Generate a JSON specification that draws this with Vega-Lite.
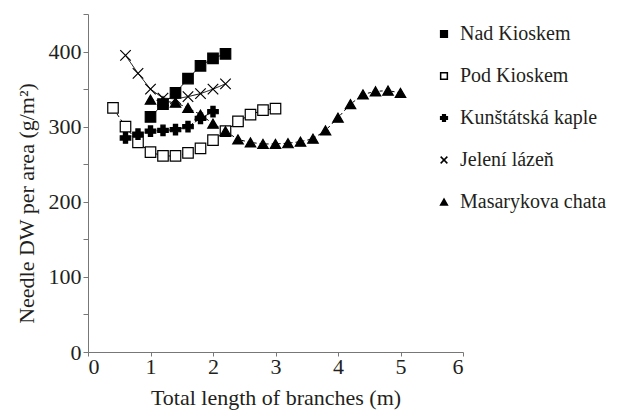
{
  "$schema": "https://vega.github.io/schema/vega-lite/v6.json",
  "width": 375,
  "height": 338,
  "autosize": {"type": "none"},
  "padding": {"left": 88, "top": 14, "right": 159, "bottom": 68},
  "background": "white",
  "config": {
    "view": {"stroke": null},
    "font": "Liberation Serif",
    "axis": {
      "grid": false,
      "domainColor": "#777777",
      "tickColor": "#777777",
      "labelFont": "Liberation Serif",
      "titleFont": "Liberation Serif",
      "labelFontSize": 22,
      "titleFontSize": 22,
      "titleFontWeight": "normal",
      "labelColor": "#231f20",
      "titleColor": "#231f20"
    },
    "legend": {"labelFont": "Liberation Serif", "labelLimit": 400}
  },
  "data": {
    "values": [
      {"site": "Nad Kioskem", "x": 1.0, "y": 313},
      {"site": "Nad Kioskem", "x": 1.2, "y": 330},
      {"site": "Nad Kioskem", "x": 1.4, "y": 345},
      {"site": "Nad Kioskem", "x": 1.6, "y": 364},
      {"site": "Nad Kioskem", "x": 1.8, "y": 381},
      {"site": "Nad Kioskem", "x": 2.0, "y": 391},
      {"site": "Nad Kioskem", "x": 2.2, "y": 397},
      {"site": "Pod Kioskem", "x": 0.4, "y": 325},
      {"site": "Pod Kioskem", "x": 0.6, "y": 300},
      {"site": "Pod Kioskem", "x": 0.8, "y": 279},
      {"site": "Pod Kioskem", "x": 1.0, "y": 266},
      {"site": "Pod Kioskem", "x": 1.2, "y": 261},
      {"site": "Pod Kioskem", "x": 1.4, "y": 261},
      {"site": "Pod Kioskem", "x": 1.6, "y": 265},
      {"site": "Pod Kioskem", "x": 1.8, "y": 271},
      {"site": "Pod Kioskem", "x": 2.0, "y": 282},
      {"site": "Pod Kioskem", "x": 2.2, "y": 294},
      {"site": "Pod Kioskem", "x": 2.4, "y": 307},
      {"site": "Pod Kioskem", "x": 2.6, "y": 316},
      {"site": "Pod Kioskem", "x": 2.8, "y": 322},
      {"site": "Pod Kioskem", "x": 3.0, "y": 324},
      {"site": "Kunštátská kaple", "x": 0.6, "y": 285},
      {"site": "Kunštátská kaple", "x": 0.8, "y": 290},
      {"site": "Kunštátská kaple", "x": 1.0, "y": 294},
      {"site": "Kunštátská kaple", "x": 1.2, "y": 295},
      {"site": "Kunštátská kaple", "x": 1.4, "y": 296},
      {"site": "Kunštátská kaple", "x": 1.6, "y": 300},
      {"site": "Kunštátská kaple", "x": 1.8, "y": 311},
      {"site": "Kunštátská kaple", "x": 2.0, "y": 320},
      {"site": "Jelení lázeň", "x": 0.6, "y": 395},
      {"site": "Jelení lázeň", "x": 0.8, "y": 371},
      {"site": "Jelení lázeň", "x": 1.0, "y": 350},
      {"site": "Jelení lázeň", "x": 1.2, "y": 338},
      {"site": "Jelení lázeň", "x": 1.4, "y": 337},
      {"site": "Jelení lázeň", "x": 1.6, "y": 340},
      {"site": "Jelení lázeň", "x": 1.8, "y": 344},
      {"site": "Jelení lázeň", "x": 2.0, "y": 350},
      {"site": "Jelení lázeň", "x": 2.2, "y": 357},
      {"site": "Masarykova chata", "x": 1.0, "y": 336},
      {"site": "Masarykova chata", "x": 1.2, "y": 334},
      {"site": "Masarykova chata", "x": 1.4, "y": 332},
      {"site": "Masarykova chata", "x": 1.6, "y": 325},
      {"site": "Masarykova chata", "x": 1.8, "y": 316},
      {"site": "Masarykova chata", "x": 2.0, "y": 304},
      {"site": "Masarykova chata", "x": 2.2, "y": 294},
      {"site": "Masarykova chata", "x": 2.4, "y": 283},
      {"site": "Masarykova chata", "x": 2.6, "y": 279},
      {"site": "Masarykova chata", "x": 2.8, "y": 277},
      {"site": "Masarykova chata", "x": 3.0, "y": 277},
      {"site": "Masarykova chata", "x": 3.2, "y": 278},
      {"site": "Masarykova chata", "x": 3.4, "y": 280},
      {"site": "Masarykova chata", "x": 3.6, "y": 284},
      {"site": "Masarykova chata", "x": 3.8, "y": 295},
      {"site": "Masarykova chata", "x": 4.0, "y": 312},
      {"site": "Masarykova chata", "x": 4.2, "y": 330},
      {"site": "Masarykova chata", "x": 4.4, "y": 343},
      {"site": "Masarykova chata", "x": 4.6, "y": 347},
      {"site": "Masarykova chata", "x": 4.8, "y": 348},
      {"site": "Masarykova chata", "x": 5.0, "y": 345}
    ]
  },
  "encoding": {
    "x": {
      "field": "x",
      "type": "quantitative",
      "scale": {"domain": [0, 6]},
      "axis": {
        "title": "Total length of branches (m)",
        "values": [0, 1, 2, 3, 4, 5, 6],
        "tickSize": 4,
        "labelPadding": 0,
        "titlePadding": 10
      }
    },
    "y": {
      "field": "y",
      "type": "quantitative",
      "scale": {"domain": [0, 450]},
      "axis": {
        "title": "Needle DW per area (g/m²)",
        "values": [0, 50, 100, 150, 200, 250, 300, 350, 400, 450],
        "labelExpr": "datum.value % 100 === 0 ? datum.label : ''",
        "tickSize": 5,
        "labelPadding": 2,
        "titlePadding": 10,
        "titleY": 189
      }
    }
  },
  "layer": [
    {
      "mark": {"type": "line", "color": "black"},
      "encoding": {
        "detail": {"field": "site", "type": "nominal"},
        "strokeDash": {
          "field": "site",
          "type": "nominal",
          "scale": {
            "domain": ["Masarykova chata", "Jelení lázeň", "Kunštátská kaple", "Pod Kioskem", "Nad Kioskem"],
            "range": [[3, 3], [1, 0], [6, 2, 2, 2], [4, 3], [1, 0]]
          },
          "legend": null
        },
        "strokeWidth": {
          "field": "site",
          "type": "nominal",
          "scale": {
            "domain": ["Masarykova chata", "Jelení lázeň", "Kunštátská kaple", "Pod Kioskem", "Nad Kioskem"],
            "range": [1, 1, 2, 2, 2]
          },
          "legend": null
        }
      }
    },
    {
      "mark": {"type": "point", "filled": true, "stroke": "black", "strokeWidth": 1.2, "opacity": 1},
      "encoding": {
        "shape": {
          "field": "site",
          "type": "nominal",
          "scale": {
            "domain": ["Nad Kioskem", "Pod Kioskem", "Kunštátská kaple", "Jelení lázeň", "Masarykova chata"],
            "range": ["square", "square", "cross", "M-1,-1L1,1M-1,1L1,-1", "triangle-up"]
          },
          "legend": {
            "title": null,
            "orient": "none",
            "legendX": 346,
            "legendY": 10,
            "labelFontSize": 20,
            "labelColor": "#231f20",
            "labelLimit": 400,
            "labelOffset": 6,
            "rowPadding": 22,
            "symbolSize": 45
          }
        },
        "fill": {
          "field": "site",
          "type": "nominal",
          "scale": {
            "domain": ["Nad Kioskem", "Pod Kioskem", "Kunštátská kaple", "Jelení lázeň", "Masarykova chata"],
            "range": ["black", "white", "black", "black", "black"]
          },
          "legend": {
            "title": null,
            "orient": "none",
            "legendX": 346,
            "legendY": 10,
            "labelFontSize": 20,
            "labelColor": "#231f20",
            "labelLimit": 400,
            "labelOffset": 6,
            "rowPadding": 22,
            "symbolSize": 45
          }
        },
        "size": {
          "field": "site",
          "type": "nominal",
          "scale": {
            "domain": ["Masarykova chata", "Jelení lázeň", "Kunštátská kaple", "Pod Kioskem", "Nad Kioskem"],
            "range": [110, 110, 55, 70, 70]
          },
          "legend": null
        }
      }
    }
  ]
}
